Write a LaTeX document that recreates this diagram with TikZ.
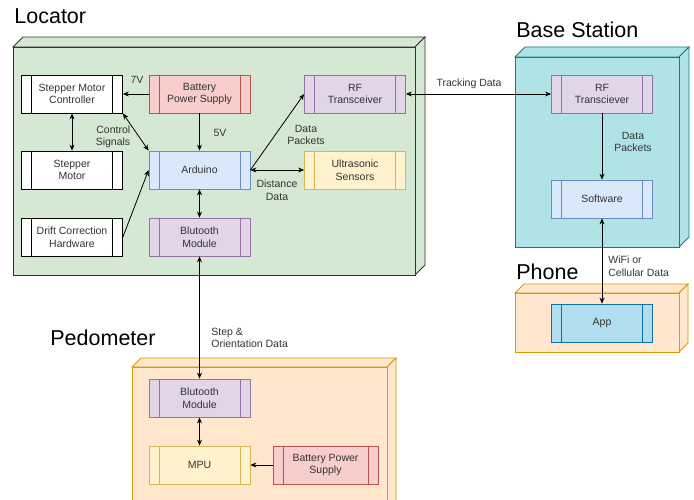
\documentclass[tikz,border=0pt]{standalone}
\usepackage{fontspec}
\setmainfont{Liberation Sans}
\usetikzlibrary{arrows.meta,positioning}
\definecolor{locfill}{HTML}{D5E8D4}
\definecolor{basefill}{HTML}{B0E3E6}
\definecolor{basedraw}{HTML}{0E8088}
\definecolor{orfill}{HTML}{FFE6CC}
\definecolor{ordraw}{HTML}{D79B00}
\definecolor{redfill}{HTML}{F8CECC}
\definecolor{reddraw}{HTML}{B85450}
\definecolor{purfill}{HTML}{E1D5E7}
\definecolor{purdraw}{HTML}{9673A6}
\definecolor{bluefill}{HTML}{DAE8FC}
\definecolor{bluedraw}{HTML}{6C8EBF}
\definecolor{yelfill}{HTML}{FFF2CC}
\definecolor{yeldraw}{HTML}{D6B656}
\definecolor{appfill}{HTML}{B1DDF0}
\definecolor{appdraw}{HTML}{10739E}
% a 3d box: x1 y1 x2 y2 depth fill draw
\newcommand{\deepbox}[7]{%
  \filldraw[fill=#6,draw=#7] (#1,#2) -- (#1+#5,#2-#5) -- (#3+#5,#2-#5) -- (#3,#2) -- cycle;
  \filldraw[fill=#6,draw=#7] (#3,#2) -- (#3+#5,#2-#5) -- (#3+#5,#4-#5) -- (#3,#4) -- cycle;
  \filldraw[fill=#6,draw=#7] (#1,#2) rectangle (#3,#4);
}

\begin{document}
\begin{tikzpicture}[x=1pt,y=-1pt,line width=0.8pt,
  proc/.style 2 args={draw=#2, fill=#1, minimum width=101pt, minimum height=38pt,
    inner sep=0pt, align=center, text=black!80,
    font=\fontsize{10.5}{12.5}\selectfont,
    path picture={
      \draw[#2] ([xshift=10pt]path picture bounding box.north west) -- ([xshift=10pt]path picture bounding box.south west);
      \draw[#2] ([xshift=-10pt]path picture bounding box.north east) -- ([xshift=-10pt]path picture bounding box.south east);
    }},
  lbl/.style={font=\fontsize{10.5}{12.5}\selectfont, text=black!80, inner sep=0pt},
  ttl/.style={font=\fontsize{21.5}{24}\selectfont, anchor=west, inner sep=0pt},
  link/.style={-{Stealth[length=6pt,width=5pt]}},
  dlink/.style={{Stealth[length=6pt,width=5pt]}-{Stealth[length=6pt,width=5pt]}}]
  \useasboundingbox (0,0) rectangle (694,500);
  \clip (0,0) rectangle (694,500);
  % containers
  \deepbox{13}{47}{415}{275}{10}{locfill}{black!80}
  \deepbox{515}{57}{679}{247}{10}{basefill}{basedraw}
  \deepbox{515}{293}{679}{352}{9}{orfill}{ordraw}
  \deepbox{132}{367}{387}{512}{9}{orfill}{ordraw}
  \node[ttl] (tloc) at (14,16) {Locator};
  \node[ttl] (tbase) at (516,30) {Base Station};
  \node[ttl] (tphone) at (516,272) {Phone};
  \node[ttl] (tped) at (50,338) {Pedometer};
  % locator
  \node[proc={white}{black}] (smc) at (72,94) {Stepper Motor\\Controller};
  \node[proc={redfill}{reddraw}] (bat) at (199.5,94) {Battery\\Power Supply};
  \node[proc={purfill}{purdraw}] (rf) at (355,94) {RF\\Transceiver};
  \node[proc={white}{black}] (sm) at (72,170) {Stepper\\Motor};
  \node[proc={bluefill}{bluedraw}] (ard) at (199.5,170) {Arduino};
  \node[proc={yelfill}{yeldraw}] (us) at (355,170) {Ultrasonic\\Sensors};
  \node[proc={white}{black}] (drift) at (72,237) {Drift Correction\\Hardware};
  \node[proc={purfill}{purdraw}] (blu) at (199.5,237) {Blutooth\\Module};
  % base station and phone
  \node[proc={purfill}{purdraw}] (brf) at (602,94) {RF\\Transciever};
  \node[proc={bluefill}{bluedraw}] (sw) at (602,199) {Software};
  \node[proc={appfill}{appdraw}] (app) at (602,323) {App};
  % pedometer
  \node[proc={purfill}{purdraw}] (pblu) at (199.5,398) {Blutooth\\Module};
  \node[proc={yelfill}{yeldraw}] (mpu) at (199.5,465) {MPU};
  \node[proc={redfill}{reddraw},minimum width=105pt] (pbat) at (325.5,465) {Battery Power\\Supply};
  % connectors
  \draw[link] (bat) -- (smc);
  \draw[link] (bat) -- (ard);
  \draw[dlink] (smc) -- (sm);
  \draw[dlink] (smc.south east) -- (ard.north west);
  \draw[link] (drift.east) -- (ard.west);
  \draw[link] (ard.east) -- (rf.west);
  \draw[dlink] (ard.east) -- (us.west);
  \draw[dlink] (ard) -- (blu);
  \draw[dlink] (blu) -- (pblu);
  \draw[dlink] (rf) -- (brf);
  \draw[link] (brf) -- (sw);
  \draw[dlink] (sw) -- (app);
  \draw[dlink] (pblu) -- (mpu);
  \draw[link] (pbat) -- (mpu);
  % connector labels
  \node[lbl] (l7v) at (137,80) {7V};
  \node[lbl] (l5v) at (220,133) {5V};
  \node[lbl,align=right] (lctl) at (113,137) {Control\\Signals};
  \node[lbl,align=center] (ldp) at (306,135) {Data\\Packets};
  \node[lbl,align=center] (ldd) at (277,190) {Distance\\Data};
  \node[lbl] (ltrk) at (469,84) {Tracking Data};
  \node[lbl,align=center] (lbdp) at (633,142) {Data\\Packets};
  \node[lbl,align=left,anchor=west] (lwifi) at (608,266) {WiFi or\\Cellular Data};
  \node[lbl,align=left,anchor=west] (lstep) at (211,338) {Step \&\\Orientation Data};
\end{tikzpicture}
\end{document}
